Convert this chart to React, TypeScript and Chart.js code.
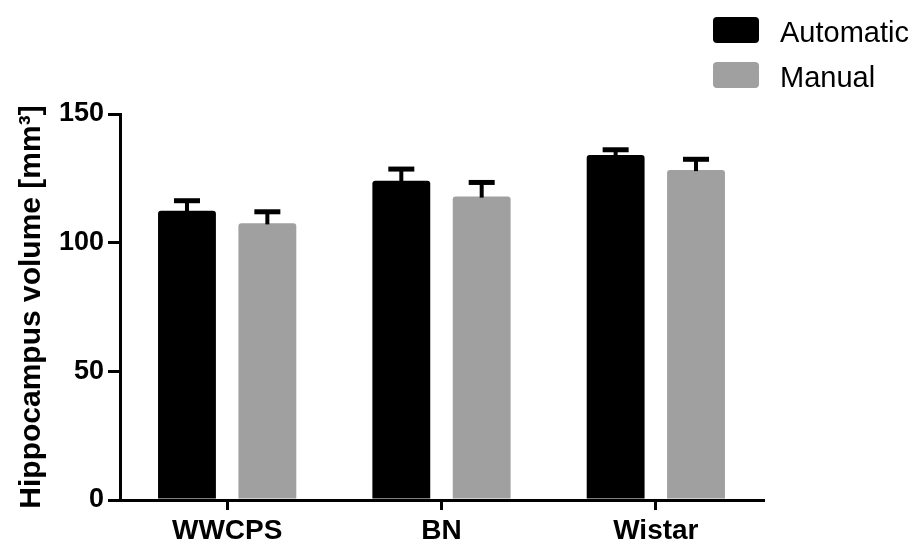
import React, { useEffect, useRef } from 'react';
import { Chart, registerables } from 'chart.js';

Chart.register(...registerables);

const categories = ['WWCPS', 'BN', 'Wistar'];
const seriesNames = ['Automatic', 'Manual'];
const automaticValues = [112.4, 124.1, 134.1];
const automaticErrors = [3.9, 4.5, 2.0];
const manualValues = [107.5, 117.9, 128.2];
const manualErrors = [4.5, 5.5, 4.2];
const yTicks = [0, 50, 100, 150];
const yTitle = 'Hippocampus volume [mm³]';

const FONT = "'Liberation Sans', Arial, Helvetica, sans-serif";

const errorBarPlugin = {
  id: 'errorBars',
  afterDatasetsDraw(chart: any) {
    const ctx = chart.ctx;
    const yScale = chart.scales.y;
    ctx.save();
    ctx.fillStyle = '#000';
    chart.data.datasets.forEach((ds: any, di: number) => {
      const meta = chart.getDatasetMeta(di);
      meta.data.forEach((el: any, i: number) => {
        const v = ds.data[i];
        const e = ds.errors[i];
        const yTop = el.y;
        const yErr = yScale.getPixelForValue(v + e);
        ctx.fillRect(el.x - 2, yErr, 4, yTop - yErr + 1);
        ctx.fillRect(el.x - 13, yErr - 2.5, 26, 5);
      });
    });
    ctx.restore();
  },
};

const legendPlugin = {
  id: 'sideLegend',
  afterDraw(chart: any) {
    const ctx = chart.ctx;
    ctx.save();
    chart.data.datasets.forEach((ds: any, i: number) => {
      const top = 17 + i * 45;
      ctx.fillStyle = ds.backgroundColor;
      ctx.beginPath();
      ctx.roundRect(713, top, 46, 26, 4);
      ctx.fill();
      ctx.fillStyle = '#000';
      ctx.font = `29px ${FONT}`;
      ctx.textBaseline = 'alphabetic';
      ctx.textAlign = 'left';
      ctx.fillText(ds.label, 780, top + 25);
    });
    ctx.restore();
  },
};

export default function App() {
  const canvasRef = useRef<HTMLCanvasElement | null>(null);

  useEffect(() => {
    if (!canvasRef.current) return;
    const chart = new Chart(canvasRef.current, {
      type: 'bar',
      data: {
        labels: categories,
        datasets: [
          {
            label: seriesNames[0],
            data: automaticValues,
            errors: automaticErrors,
            backgroundColor: '#000000',
            borderRadius: 3,
            borderSkipped: 'bottom',
            categoryPercentage: 0.75,
            barPercentage: 0.72,
          } as any,
          {
            label: seriesNames[1],
            data: manualValues,
            errors: manualErrors,
            backgroundColor: '#a0a0a0',
            borderRadius: 3,
            borderSkipped: 'bottom',
            categoryPercentage: 0.75,
            barPercentage: 0.72,
          } as any,
        ],
      },
      options: {
        animation: false,
        responsive: true,
        maintainAspectRatio: false,
        layout: { padding: { left: 0, top: 114, right: 157, bottom: 0 } },
        plugins: {
          legend: { display: false },
          tooltip: { enabled: false },
        },
        scales: {
          x: {
            afterFit: (scale: any) => {
              scale.height = 45;
            },
            grid: {
              offset: false,
              drawOnChartArea: false,
              drawTicks: true,
              tickLength: 10,
              lineWidth: 3,
              tickWidth: 3,
              color: '#000',
              tickColor: '#000',
            },
            border: { display: true, width: 3, color: '#000' },
            ticks: {
              color: '#000',
              padding: 4,
              font: { family: FONT, size: 28, weight: 'bold' },
              maxRotation: 0,
            },
          },
          y: {
            min: 0,
            max: 150,
            afterFit: (scale: any) => {
              scale.width = 120;
            },
            afterBuildTicks: (scale: any) => {
              scale.ticks = yTicks.map((v) => ({ value: v }));
            },
            grid: {
              drawOnChartArea: false,
              drawTicks: true,
              tickLength: 12,
              lineWidth: 3,
              tickWidth: 3,
              color: '#000',
              tickColor: '#000',
            },
            border: { display: true, width: 3, color: '#000' },
            ticks: {
              color: '#000',
              padding: 4,
              font: { family: FONT, size: 27, weight: 'bold' },
            },
            title: {
              display: true,
              text: yTitle,
              color: '#000',
              font: { family: FONT, size: 30, weight: 'bold' },
              padding: { top: 14, bottom: 0 },
            },
          },
        },
      },
      plugins: [errorBarPlugin, legendPlugin],
    } as any);
    return () => chart.destroy();
  }, []);

  return (
    <div style={{ position: 'fixed', left: 0, top: 0, width: 920, height: 545, background: '#fff' }}>
      <canvas ref={canvasRef} />
    </div>
  );
}
